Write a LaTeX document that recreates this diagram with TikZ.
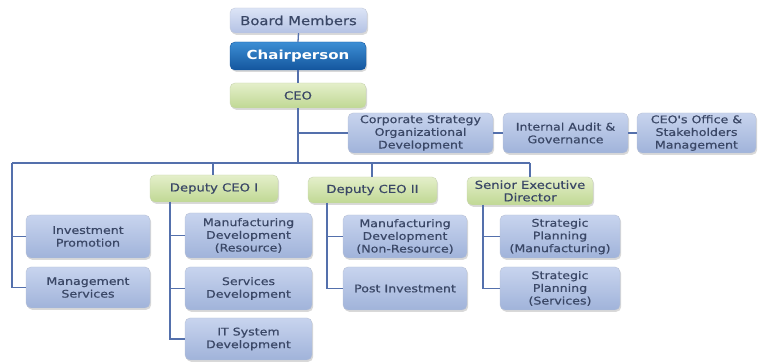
\documentclass[tikz,border=0pt]{standalone}
\usepackage{fontspec}
\setmainfont{DejaVu Sans}[FakeStretch=1.2]
\newfontfamily\semib{DejaVu Sans}[FakeStretch=1.2, FakeBold=0.6]
\usetikzlibrary{shadows}
\definecolor{txt}{HTML}{3A4766}
\definecolor{lnc}{HTML}{5470AC}
\definecolor{bluetop}{HTML}{C8D4EE}
\definecolor{bluebot}{HTML}{A0B3DA}
\definecolor{greentop}{HTML}{E4EFCA}
\definecolor{greenbot}{HTML}{C0D894}
\definecolor{chairtop}{HTML}{3C8ED4}
\definecolor{chairbot}{HTML}{14569E}
\definecolor{boardtop}{HTML}{DCE4F6}
\definecolor{boardbot}{HTML}{B4C2E4}
\tikzset{
  x=1pt, y=-1pt,
  base/.style={rounded corners=5pt, align=center, text=txt, inner sep=1pt,
    drop shadow={opacity=0.3, shadow xshift=1.2pt, shadow yshift=-1.8pt},
    font=\semib\fontsize{10.5}{12.7}\selectfont},
  bluebox/.style={base, top color=bluetop, bottom color=bluebot, draw=bluebot!85!black!60},
  greenbox/.style={base, top color=greentop, bottom color=greenbot, draw=greenbot!85!black!60,
    font=\semib\fontsize{11}{12.5}\selectfont},
  chairbox/.style={base, top color=chairtop, bottom color=chairbot, draw=chairbot, text=white,
    font=\fontsize{12.5}{14}\selectfont\bfseries},
  boardbox/.style={base, top color=boardtop, bottom color=boardbot, draw=boardbot!85!black!60,
    font=\semib\fontsize{12.3}{14}\selectfont},
  conn/.style={draw=lnc, line width=1.3pt}
}
\begin{document}
\begin{tikzpicture}
\useasboundingbox (0,0) rectangle (758,363);
% top chain
\node[boardbox, minimum width=137, minimum height=25] (board) at (298.5,20.5) {Board Members};
\node[chairbox, minimum width=136, minimum height=28] (chair) at (298,56) {Chairperson};
\node[greenbox, minimum width=136, minimum height=25] (ceo) at (298,95.5) {CEO};
% staff row
\node[bluebox, minimum width=145, minimum height=40] (corp) at (420.5,133) {Corporate Strategy\\Organizational\\Development};
\node[bluebox, minimum width=125, minimum height=40] (audit) at (565.5,133) {Internal Audit \&\\Governance};
\node[bluebox, minimum width=119, minimum height=40] (office) at (696.5,133) {CEO's Office \&\\Stakeholders\\Management};
% left column
\node[bluebox, minimum width=124, minimum height=43] (invest) at (88,236.5) {Investment\\Promotion};
\node[bluebox, minimum width=124, minimum height=41] (mgmt) at (88,287.5) {Management\\Services};
% deputy CEO I
\node[greenbox, minimum width=128, minimum height=27] (d1) at (214,188.5) {Deputy CEO I};
\node[bluebox, minimum width=127, minimum height=45] (mres) at (248.5,235.5) {Manufacturing\\Development\\(Resource)};
\node[bluebox, minimum width=127, minimum height=43] (serv) at (248.5,288.5) {Services\\Development};
\node[bluebox, minimum width=127, minimum height=42] (it) at (248.5,339) {IT System\\Development};
% deputy CEO II
\node[greenbox, minimum width=129, minimum height=26] (d2) at (372.5,190) {Deputy CEO II};
\node[bluebox, minimum width=124, minimum height=43] (mnon) at (405,236.5) {Manufacturing\\Development\\(Non-Resource)};
\node[bluebox, minimum width=124, minimum height=43] (post) at (405,288.5) {Post Investment};
% senior executive director
\node[greenbox, minimum width=126, minimum height=28] (sed) at (530,191) {Senior Executive\\Director};
\node[bluebox, minimum width=120, minimum height=43] (spm) at (560,236.5) {Strategic\\Planning\\(Manufacturing)};
\node[bluebox, minimum width=120, minimum height=43] (sps) at (560,288.5) {Strategic\\Planning\\(Services)};
% connectors
\coordinate (bus) at (298,163);
\coordinate (busL) at (12,163);
\coordinate (busR) at (530,163);
\draw[conn] (board.south) -- (chair.north);
\draw[conn] (chair.south) -- (ceo.north);
\draw[conn] (ceo.south) -- (bus);
\draw[conn] (298,133) -- (corp.west);
\draw[conn] (corp.east) -- (audit.west);
\draw[conn] (audit.east) -- (office.west);
\draw[conn] (busL) -- (busR);
\draw[conn] (213,163) -- (213,175);
\draw[conn] (372,163) -- (372,177);
\draw[conn] (busR) -- (sed.north);
\draw[conn] (busL) |- (invest.west);
\draw[conn] (busL) |- (mgmt.west);
\draw[conn] (170,202) |- (mres.west);
\draw[conn] (170,202) |- (serv.west);
\draw[conn] (170,202) |- (it.west);
\draw[conn] (327,203) |- (mnon.west);
\draw[conn] (327,203) |- (post.west);
\draw[conn] (483,205) |- (spm.west);
\draw[conn] (483,205) |- (sps.west);
\end{tikzpicture}
\end{document}
